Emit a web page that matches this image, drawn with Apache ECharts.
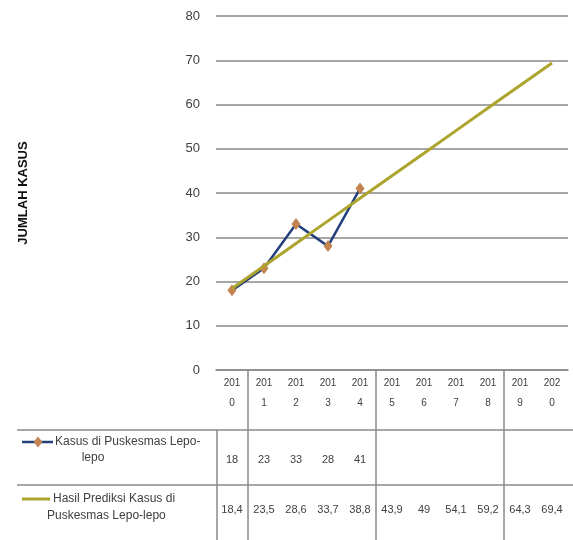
<!DOCTYPE html>
<html>
<head>
<meta charset="utf-8">
<script src="https://cdn.jsdelivr.net/npm/echarts@6/dist/echarts.min.js"></script>
<style>
html,body{margin:0;padding:0;background:#fff;}
#chart{width:573px;height:540px;}
</style>
</head>
<body>
<div id="chart"></div>
<script>
const categories = ['2010','2011','2012','2013','2014','2015','2016','2017','2018','2019','2020'];
const actualCases = [18, 23, 33, 28, 41];
const predictedCases = [18.4, 23.5, 28.6, 33.7, 38.8, 43.9, 49, 54.1, 59.2, 64.3, 69.4];
const yTicks = [0, 10, 20, 30, 40, 50, 60, 70, 80];
const seriesNames = ['Kasus di Puskesmas Lepo-lepo', 'Hasil Prediksi Kasus di Puskesmas Lepo-lepo'];
const yTitle = 'JUMLAH KASUS';
const tableDividerBefore = [1, 5, 9];

const FONT = 'Liberation Sans';
const TXT = '#404040';
const GRID = '#8a8a8a';
const NAVY = '#24407c';
const BROWN = '#c3834f';
const OLIVE = '#aca42c';

const fmt = v => (v === undefined || v === null) ? '' : String(v).replace('.', ',');

const chart = echarts.init(document.getElementById('chart'));

function diamond(cx, cy, r) {
  return [[cx, cy - r], [cx + r * 0.8, cy], [cx, cy + r], [cx - r * 0.8, cy]];
}

const baseGraphic = [
  { type: 'line', shape: { x1: 17, y1: 430, x2: 573, y2: 430 }, style: { stroke: GRID, lineWidth: 1.5 } },
  { type: 'line', shape: { x1: 17, y1: 485, x2: 573, y2: 485 }, style: { stroke: GRID, lineWidth: 1.5 } },
  { type: 'line', shape: { x1: 217, y1: 430, x2: 217, y2: 540 }, style: { stroke: GRID, lineWidth: 1.5 } },
  { type: 'line', shape: { x1: 22, y1: 442, x2: 53, y2: 442 }, style: { stroke: NAVY, lineWidth: 2.5 } },
  { type: 'polygon', shape: { points: diamond(38, 442, 5.5) }, style: { fill: BROWN } },
  { type: 'text', x: 55, y: 442, style: { text: 'Kasus di Puskesmas Lepo-', fontFamily: FONT, fontSize: 12, fill: TXT, textVerticalAlign: 'middle', textAlign: 'left' } },
  { type: 'text', x: 93, y: 458, style: { text: 'lepo', fontFamily: FONT, fontSize: 12, fill: TXT, textVerticalAlign: 'middle', textAlign: 'center' } },
  { type: 'line', shape: { x1: 22, y1: 499, x2: 50, y2: 499 }, style: { stroke: OLIVE, lineWidth: 3 } },
  { type: 'text', x: 53, y: 499, style: { text: 'Hasil Prediksi Kasus di', fontFamily: FONT, fontSize: 12, fill: TXT, textVerticalAlign: 'middle', textAlign: 'left' } },
  { type: 'text', x: 47, y: 516, style: { text: 'Puskesmas Lepo-lepo', fontFamily: FONT, fontSize: 12, fill: TXT, textVerticalAlign: 'middle', textAlign: 'left' } }
];

const option = {
  backgroundColor: '#fff',
  animation: false,
  grid: { left: 216, right: 5, top: 16, bottom: 170, containLabel: false, outerBoundsMode: 'none' },
  xAxis: [
    {
      type: 'category',
      data: categories,
      boundaryGap: true,
      axisLine: { show: true, lineStyle: { color: GRID, width: 1.5 } },
      axisTick: { show: false },
      axisLabel: {
        interval: 0,
        margin: 3,
        fontFamily: FONT,
        fontSize: 10,
        lineHeight: 20,
        color: TXT,
        formatter: v => v.slice(0, 3) + '\n' + v.slice(3)
      },
      splitLine: { show: false }
    },
    {
      type: 'category',
      data: categories,
      position: 'bottom',
      offset: 80,
      axisLine: { show: false },
      axisTick: { show: false },
      axisLabel: {
        interval: 0,
        margin: 4,
        fontFamily: FONT,
        fontSize: 11,
        color: TXT,
        formatter: (v, i) => fmt(actualCases[i])
      }
    },
    {
      type: 'category',
      data: categories,
      position: 'bottom',
      offset: 130,
      axisLine: { show: false },
      axisTick: { show: false },
      axisLabel: {
        interval: 0,
        margin: 4,
        fontFamily: FONT,
        fontSize: 11,
        color: TXT,
        formatter: (v, i) => fmt(predictedCases[i])
      }
    }
  ],
  yAxis: {
    type: 'value',
    min: yTicks[0],
    max: yTicks[yTicks.length - 1],
    interval: yTicks[1] - yTicks[0],
    name: yTitle,
    nameLocation: 'middle',
    nameGap: 186,
    nameTextStyle: { fontFamily: FONT, fontSize: 13, fontWeight: 'bold', color: '#111' },
    axisLine: { show: false },
    axisTick: { show: false },
    axisLabel: { margin: 16, fontFamily: FONT, fontSize: 13, color: TXT },
    splitLine: { show: true, lineStyle: { color: GRID, width: 1.5 } }
  },
  series: [
    {
      name: seriesNames[0],
      type: 'line',
      xAxisIndex: 0,
      data: actualCases,
      symbol: 'diamond',
      symbolSize: [9, 12],
      itemStyle: { color: BROWN },
      lineStyle: { color: NAVY, width: 2.5 },
      z: 3
    },
    {
      name: seriesNames[1],
      type: 'line',
      xAxisIndex: 0,
      data: predictedCases,
      showSymbol: false,
      symbol: 'none',
      lineStyle: { color: OLIVE, width: 3 },
      z: 4
    }
  ],
  graphic: baseGraphic
};

chart.setOption(option);

// table dividers at category boundaries, positioned through the category axis
const p0 = chart.convertToPixel({ xAxisIndex: 0 }, 0);
const p1 = chart.convertToPixel({ xAxisIndex: 0 }, 1);
const band = p1 - p0;
const dividers = tableDividerBefore.map(i => {
  const x = Math.round(chart.convertToPixel({ xAxisIndex: 0 }, i) - band / 2);
  return { type: 'line', shape: { x1: x, y1: 370, x2: x, y2: 540 }, style: { stroke: GRID, lineWidth: 1.5 } };
});
chart.setOption({ graphic: baseGraphic.concat(dividers) });
</script>
</body>
</html>
